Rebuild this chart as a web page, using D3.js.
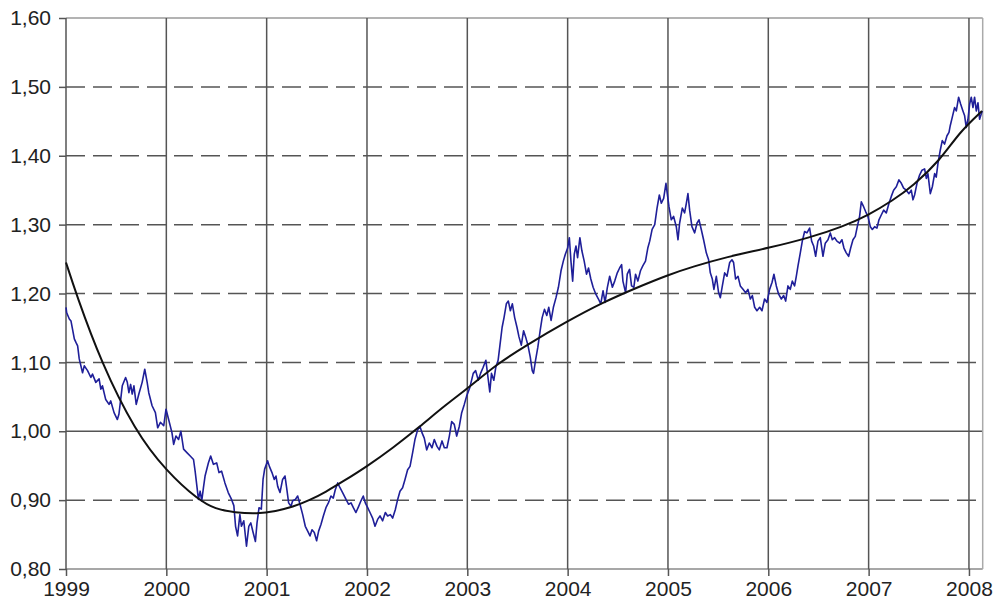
<!DOCTYPE html>
<html>
<head>
<meta charset="utf-8">
<script src="https://cdn.jsdelivr.net/npm/d3@7/dist/d3.min.js"></script>
<style>
  html, body { margin: 0; padding: 0; background: #fff; }
  svg { display: block; }
  text { font-family: "Liberation Sans", Arial, Helvetica, sans-serif; fill: #222; }
</style>
</head>
<body>
<svg id="chart" width="993" height="610"></svg>
<script>
// ---- Data (decimal years, EUR/USD rate) ----
const rateYears = [
1999.000,1999.007,1999.033,1999.050,1999.083,1999.099,1999.116,1999.132,1999.165,1999.182,1999.215,1999.248,1999.264,1999.297,1999.330,1999.347,1999.363,1999.396,1999.429,1999.446,1999.479,1999.512,1999.528,1999.545,1999.561,1999.594,1999.611,1999.627,1999.644,1999.660,1999.677,1999.700,1999.726,1999.759,1999.785,1999.809,1999.825,1999.858,1999.891,1999.914,1999.941,1999.974,1999.997,
2000.023,2000.056,2000.073,2000.096,2000.122,2000.145,2000.172,2000.205,2000.238,2000.271,2000.287,2000.304,2000.320,2000.337,2000.353,2000.370,2000.386,2000.419,2000.442,2000.469,2000.502,2000.525,2000.551,2000.584,2000.617,2000.650,2000.673,2000.690,2000.710,2000.733,2000.749,2000.772,2000.799,2000.822,2000.842,2000.865,2000.888,2000.904,2000.924,2000.947,2000.964,2000.980,
2001.010,2001.027,2001.053,2001.076,2001.093,2001.110,2001.133,2001.159,2001.183,2001.199,2001.219,2001.243,2001.259,2001.286,2001.309,2001.332,2001.359,2001.385,2001.409,2001.432,2001.452,2001.475,2001.498,2001.518,2001.542,2001.565,2001.591,2001.615,2001.641,2001.664,2001.684,2001.708,2001.731,2001.757,2001.791,2001.817,2001.841,2001.864,2001.890,2001.917,2001.940,2001.963,2001.983,
2002.007,2002.030,2002.056,2002.080,2002.106,2002.130,2002.156,2002.183,2002.206,2002.233,2002.256,2002.282,2002.306,2002.329,2002.355,2002.379,2002.405,2002.429,2002.455,2002.478,2002.505,2002.528,2002.548,2002.571,2002.595,2002.621,2002.648,2002.671,2002.698,2002.721,2002.748,2002.771,2002.797,2002.821,2002.844,2002.870,2002.894,2002.920,2002.944,2002.970,2002.993,
2003.026,2003.059,2003.083,2003.109,2003.132,2003.158,2003.185,2003.208,2003.224,2003.241,2003.264,2003.284,2003.307,2003.323,2003.347,2003.366,2003.389,2003.409,2003.429,2003.449,2003.472,2003.495,2003.515,2003.538,2003.561,2003.581,2003.604,2003.627,2003.647,2003.660,2003.680,2003.703,2003.726,2003.746,2003.769,2003.792,2003.812,2003.835,2003.858,2003.884,2003.908,2003.934,2003.957,2003.977,
2004.000,2004.017,2004.033,2004.050,2004.066,2004.083,2004.099,2004.122,2004.142,2004.165,2004.188,2004.208,2004.231,2004.254,2004.281,2004.307,2004.330,2004.353,2004.373,2004.396,2004.419,2004.446,2004.469,2004.495,2004.518,2004.538,2004.551,2004.578,2004.594,2004.617,2004.637,2004.660,2004.677,2004.700,2004.726,2004.749,2004.776,2004.799,2004.818,2004.842,2004.868,2004.891,2004.914,2004.934,2004.957,2004.980,
2005.010,2005.033,2005.056,2005.083,2005.100,2005.116,2005.143,2005.166,2005.183,2005.199,2005.216,2005.239,2005.266,2005.289,2005.309,2005.332,2005.355,2005.382,2005.405,2005.422,2005.442,2005.458,2005.482,2005.505,2005.522,2005.542,2005.565,2005.588,2005.615,2005.638,2005.654,2005.674,2005.698,2005.721,2005.748,2005.774,2005.797,2005.821,2005.841,2005.864,2005.887,2005.914,2005.937,2005.963,2005.987,
2006.013,2006.037,2006.056,2006.080,2006.103,2006.130,2006.153,2006.173,2006.196,2006.219,2006.239,2006.262,2006.279,2006.296,2006.319,2006.339,2006.362,2006.385,2006.412,2006.432,2006.452,2006.472,2006.495,2006.518,2006.545,2006.568,2006.595,2006.618,2006.638,2006.661,2006.684,2006.711,2006.734,2006.754,2006.777,2006.801,2006.821,2006.844,2006.867,2006.887,2006.910,2006.927,2006.950,2006.970,2006.993,
2007.017,2007.037,2007.060,2007.083,2007.103,2007.126,2007.150,2007.176,2007.203,2007.226,2007.249,2007.276,2007.302,2007.326,2007.349,2007.375,2007.402,2007.425,2007.442,2007.458,2007.482,2007.508,2007.532,2007.558,2007.575,2007.591,2007.615,2007.635,2007.658,2007.674,2007.691,2007.714,2007.734,2007.757,2007.781,2007.801,2007.814,2007.834,2007.857,2007.874,2007.897,2007.917,2007.940,2007.957,2007.973,2007.990,
2008.007,2008.023,2008.040,2008.056,2008.073,2008.090,2008.106,2008.123,2008.133
];
const rateValues = [
1.180,1.172,1.163,1.160,1.134,1.129,1.124,1.105,1.085,1.095,1.088,1.078,1.083,1.071,1.076,1.061,1.066,1.046,1.039,1.044,1.027,1.017,1.025,1.046,1.066,1.078,1.071,1.056,1.068,1.054,1.066,1.039,1.054,1.071,1.090,1.071,1.056,1.037,1.027,1.005,1.013,1.008,1.032,
1.017,0.998,0.981,0.993,0.988,1.000,0.974,0.969,0.964,0.959,0.942,0.921,0.901,0.913,0.899,0.918,0.935,0.954,0.964,0.952,0.954,0.940,0.942,0.925,0.911,0.901,0.892,0.862,0.848,0.879,0.862,0.870,0.833,0.862,0.867,0.853,0.840,0.867,0.889,0.887,0.930,0.945,
0.957,0.949,0.940,0.930,0.935,0.920,0.911,0.930,0.935,0.918,0.896,0.891,0.899,0.901,0.906,0.894,0.879,0.862,0.855,0.848,0.857,0.853,0.841,0.855,0.865,0.877,0.889,0.896,0.906,0.903,0.915,0.925,0.918,0.911,0.901,0.894,0.896,0.889,0.882,0.891,0.899,0.906,0.896,
0.889,0.882,0.874,0.862,0.872,0.877,0.870,0.882,0.877,0.879,0.874,0.886,0.901,0.913,0.918,0.930,0.944,0.949,0.969,0.988,1.002,1.007,0.998,0.990,0.973,0.983,0.976,0.988,0.978,0.973,0.986,0.976,0.976,0.993,1.014,1.010,0.993,1.007,1.027,1.039,1.051,
1.064,1.084,1.088,1.074,1.084,1.093,1.103,1.076,1.057,1.084,1.074,1.093,1.103,1.122,1.151,1.165,1.185,1.189,1.175,1.185,1.165,1.151,1.137,1.125,1.146,1.137,1.125,1.108,1.088,1.084,1.103,1.122,1.146,1.165,1.177,1.168,1.180,1.161,1.180,1.194,1.209,1.233,1.247,1.257,
1.266,1.281,1.247,1.218,1.257,1.269,1.252,1.281,1.262,1.247,1.228,1.237,1.221,1.209,1.199,1.192,1.185,1.204,1.187,1.209,1.225,1.209,1.218,1.230,1.237,1.242,1.218,1.201,1.228,1.235,1.211,1.209,1.228,1.218,1.233,1.240,1.247,1.266,1.276,1.293,1.300,1.324,1.343,1.331,1.338,1.360,
1.326,1.307,1.312,1.297,1.278,1.302,1.324,1.317,1.331,1.345,1.321,1.297,1.288,1.302,1.307,1.293,1.278,1.259,1.249,1.230,1.221,1.206,1.225,1.201,1.194,1.211,1.230,1.225,1.245,1.249,1.245,1.221,1.225,1.211,1.206,1.201,1.206,1.192,1.197,1.180,1.175,1.180,1.175,1.192,1.187,
1.206,1.216,1.228,1.211,1.199,1.192,1.197,1.189,1.211,1.206,1.218,1.211,1.225,1.240,1.259,1.276,1.290,1.288,1.295,1.276,1.269,1.254,1.276,1.281,1.254,1.273,1.278,1.288,1.278,1.281,1.276,1.273,1.278,1.266,1.259,1.254,1.266,1.278,1.283,1.297,1.312,1.333,1.326,1.319,1.312,
1.297,1.293,1.297,1.295,1.307,1.314,1.321,1.317,1.331,1.341,1.350,1.355,1.365,1.360,1.353,1.350,1.345,1.350,1.336,1.343,1.360,1.372,1.379,1.381,1.367,1.374,1.345,1.355,1.374,1.369,1.389,1.408,1.422,1.417,1.429,1.434,1.444,1.456,1.470,1.465,1.485,1.475,1.465,1.458,1.441,1.453,
1.475,1.485,1.470,1.485,1.465,1.477,1.453,1.461,1.465
];

// Smooth trend line
const trendYears  = [1999.00,1999.10,1999.35,1999.69,2000.00,2000.32,2000.49,2000.68,2000.91,2001.09,2001.26,2001.43,2001.59,2001.76,2002.00,2002.26,2002.52,2002.79,2003.02,2003.29,2003.59,2004.00,2004.35,2004.68,2005.00,2005.25,2005.58,2006.00,2006.41,2006.74,2007.00,2007.24,2007.44,2007.71,2007.91,2008.13];
const trendValues = [1.245,1.200,1.100,1.000,0.942,0.900,0.887,0.882,0.880,0.884,0.890,0.900,0.912,0.927,0.949,0.976,1.006,1.039,1.064,1.097,1.125,1.160,1.187,1.208,1.227,1.239,1.253,1.266,1.281,1.297,1.314,1.335,1.356,1.393,1.435,1.465];

// Axis ticks
const xTickYears = [1999,2000,2001,2002,2003,2004,2005,2006,2007,2008];
const yTickValues = [0.80,0.90,1.00,1.10,1.20,1.30,1.40,1.50,1.60];
const xDomain = [1999, 2008.137];
const yDomain = [0.80, 1.60];

// ---- Drawing ----
const svg = d3.select("#chart");
const plotLeft = 66, plotTop = 18, plotRight = 982.7, plotBottom = 569;

const x = d3.scaleLinear().domain(xDomain).range([plotLeft, plotRight]);
const y = d3.scaleLinear().domain(yDomain).range([plotBottom, plotTop]);

const isV = (d, v) => Math.abs(d - v) < 1e-6;
const grid = svg.append("g");

// horizontal grid lines
grid.selectAll("line.h").data(yTickValues).join("line")
  .attr("class", "h")
  .attr("x1", plotLeft).attr("x2", plotRight)
  .attr("y1", d => y(d)).attr("y2", d => y(d))
  .attr("stroke", d => isV(d, 1.6) ? "#9a9a9a" : (isV(d, 0.8) ? "#8a8a8a" : "#555"))
  .attr("stroke-width", 1.5)
  .attr("stroke-dasharray", d => (isV(d, 1.0) || isV(d, 1.6) || isV(d, 0.8)) ? null : "19,8");

// vertical grid lines
grid.selectAll("line.v").data(xTickYears).join("line")
  .attr("class", "v")
  .attr("x1", d => x(d)).attr("x2", d => x(d))
  .attr("y1", plotTop).attr("y2", plotBottom)
  .attr("stroke", "#555")
  .attr("stroke-width", 1.5);

// right border
grid.append("line")
  .attr("x1", plotRight).attr("x2", plotRight).attr("y1", plotTop).attr("y2", plotBottom)
  .attr("stroke", "#aaa").attr("stroke-width", 1.5);

// Axes with D3 axis generators
const yAxis = d3.axisLeft(y).tickValues(yTickValues)
  .tickFormat(d => d3.format(".2f")(d).replace(".", ","))
  .tickSize(7).tickPadding(8);
const gy = svg.append("g").attr("transform", `translate(${plotLeft},0)`).call(yAxis);
gy.select(".domain").remove();
gy.selectAll(".tick line").attr("stroke", "#555").attr("stroke-width", 1.5);
gy.selectAll(".tick text").style("font-size", "21px").attr("fill", "#222")
  .style("font-family", '"Liberation Sans", Arial, sans-serif');

const xAxis = d3.axisBottom(x).tickValues(xTickYears)
  .tickFormat(d3.format("d")).tickSize(7).tickPadding(5);
const gx = svg.append("g").attr("transform", `translate(0,${plotBottom})`).call(xAxis);
gx.select(".domain").remove();
gx.selectAll(".tick line").attr("stroke", "#555").attr("stroke-width", 1.5);
gx.selectAll(".tick text").style("font-size", "21px").attr("fill", "#222")
  .style("font-family", '"Liberation Sans", Arial, sans-serif');

// Exchange rate line
const rateData = rateYears.map((t, i) => ({ t, v: rateValues[i] }));
const line = d3.line().x(d => x(d.t)).y(d => y(d.v));
svg.append("path").datum(rateData)
  .attr("d", line)
  .attr("fill", "none")
  .attr("stroke", "#1f1f99")
  .attr("stroke-width", 1.6)
  .attr("stroke-linejoin", "round");

// Trend line
const trendData = trendYears.map((t, i) => ({ t, v: trendValues[i] }));
const trendLine = d3.line().x(d => x(d.t)).y(d => y(d.v)).curve(d3.curveBasis);
svg.append("path").datum(trendData)
  .attr("d", trendLine)
  .attr("fill", "none")
  .attr("stroke", "#111")
  .attr("stroke-width", 2);
</script>
</body>
</html>
